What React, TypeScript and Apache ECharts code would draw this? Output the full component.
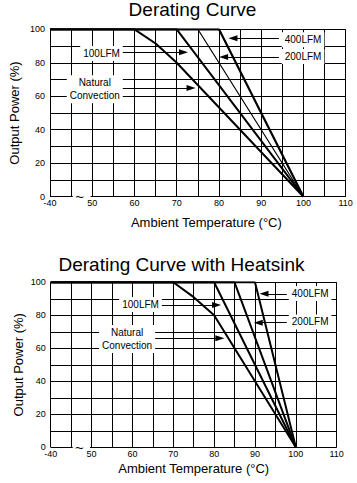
import React, { useEffect, useRef } from "react";
import * as echarts from "echarts";

const FONT = "'Liberation Sans', Arial, Helvetica, sans-serif";

// Top chart: Derating Curve  [temperature (40 shown as -40), output %]
const topNatural = [[40, 100], [60, 100], [65, 91.5], [70, 80], [100, 0]];
const top100LFM = [[40, 100], [70, 100], [100, 0]];
const top200LFM = [[40, 100], [75, 100], [100, 0]];
const top400LFM = [[40, 100], [80, 100], [100, 0]];

// Bottom chart: Derating Curve with Heatsink
const botNatural = [[40, 100], [70, 100], [75, 91], [80, 80], [100, 0]];
const bot100LFM = [[40, 100], [80, 100], [100, 0]];
const bot200LFM = [[40, 100], [85, 100], [100, 0]];
const bot400LFM = [[40, 100], [90, 100], [100, 0]];

// axis break between -40 and 50
const axisBreak = [45.4, 49.6];
const breakMark = [47, 0];

// annotations: label position and arrow (from, to, y)
const topLabels = [
  { text: "100LFM", x: 52.2, y: 85.5 },
  { text: "Natural\nConvection", x: 50.6, y: 64.2 },
  { text: "400LFM", x: 99.9, y: 93.8 },
  { text: "200LFM", x: 99.9, y: 83.8 },
];
const topArrows = [
  { from: 57.0, to: 71.6, y: 86.3 },
  { from: 57.0, to: 73.4, y: 64.9 },
  { from: 94.2, to: 83.3, y: 94.6 },
  { from: 94.2, to: 81.1, y: 83.5 },
];
const botLabels = [
  { text: "100LFM", x: 62.0, y: 86.6 },
  { text: "Natural\nConvection", x: 58.7, y: 65.6 },
  { text: "400LFM", x: 103.5, y: 93.2 },
  { text: "200LFM", x: 103.5, y: 76.0 },
];
const botArrows = [
  { from: 66.6, to: 80.6, y: 86.2 },
  { from: 64.8, to: 81.4, y: 66.1 },
  { from: 97.8, to: 92.2, y: 93.0 },
  { from: 97.8, to: 90.8, y: 75.5 },
];

function xAxisCfg(gridIndex: number, nameGap: number, shift: number) {
  return {
    gridIndex,
    type: "value",
    min: 40,
    max: 110,
    interval: 5,
    axisLine: { show: false },
    axisTick: { show: false },
    splitLine: { show: true, lineStyle: { color: "#000", width: 1 } },
    axisLabel: {
      color: "#000",
      fontSize: 9,
      fontFamily: FONT,
      margin: 2,
      showMinLabel: true,
      showMaxLabel: true,
      formatter: (v: number) => (v === 40 ? "-40" : v % 10 === 0 ? String(v) : ""),
    },
    name: "Ambient Temperature (°C)",
    nameLocation: "middle",
    nameGap,
    nameMoveOverlap: false,
    nameTextStyle: {
      color: "#000",
      fontSize: 13,
      fontWeight: "normal",
      fontFamily: FONT,
      padding: [0, 0, 0, shift],
    },
  };
}

function yAxisCfg(gridIndex: number, nameGap: number) {
  return {
    gridIndex,
    type: "value",
    min: 0,
    max: 100,
    interval: 10,
    axisLine: { show: false },
    axisTick: { show: false },
    splitLine: { show: true, lineStyle: { color: "#000", width: 1 } },
    axisLabel: {
      color: "#000",
      fontSize: 9,
      fontFamily: FONT,
      margin: 5,
      formatter: (v: number) => (v % 20 === 0 ? String(v) : ""),
    },
    name: "Output Power (%)",
    nameLocation: "middle",
    nameGap,
    nameMoveOverlap: false,
    nameTextStyle: { color: "#000", fontSize: 13, fontWeight: "normal", fontFamily: FONT },
  };
}

function curve(idx: number, data: number[][], width: number) {
  return {
    type: "line",
    xAxisIndex: idx,
    yAxisIndex: idx,
    data,
    symbol: "none",
    silent: true,
    z: 5,
    lineStyle: { color: "#000", width },
  };
}

function annotations(idx: number, labels: any[], arrows: any[]) {
  return [
    {
      type: "line",
      xAxisIndex: idx,
      yAxisIndex: idx,
      data: [[axisBreak[0], 0], [axisBreak[1], 0]],
      symbol: "none",
      silent: true,
      clip: false,
      z: 3,
      lineStyle: { color: "#fff", width: 3 },
      markLine: {
        silent: true,
        symbol: ["none", "triangle"],
        symbolSize: 8,
        label: { show: false },
        lineStyle: { color: "#000", width: 1, type: "solid" },
        data: arrows.map((a) => [
          { coord: [a.from, a.y] },
          { coord: [a.to, a.y], symbolSize: [6, 9] },
        ]),
      },
      markPoint: {
        silent: true,
        symbol: "rect",
        symbolSize: 1,
        itemStyle: { color: "rgba(0,0,0,0)" },
        data: [
          ...labels.map((l) => ({
            coord: [l.x, l.y],
            label: {
              show: true,
              position: "inside",
              formatter: l.text,
              color: "#000",
              fontSize: 10,
              fontFamily: FONT,
              lineHeight: 13,
              align: "center",
              backgroundColor: "#fff",
              padding: [1, 3],
            },
          })),
          {
            coord: breakMark,
            label: {
              show: true,
              position: "inside",
              formatter: "~",
              color: "#000",
              fontSize: 15,
              fontFamily: FONT,
            },
          },
        ],
      },
    },
  ];
}

export default function App() {
  const ref = useRef<HTMLDivElement>(null);
  useEffect(() => {
    document.body.style.margin = "0";
    const chart = echarts.init(ref.current!, null, { renderer: "svg" });
    chart.setOption({
      animation: false,
      backgroundColor: "#fff",
      grid: [
        { left: 49.3, right: 11.3, top: 29.3, height: 167.4 },
        { left: 50.7, right: 20.3, top: 282.3, height: 165 },
      ],
      xAxis: [xAxisCfg(0, 19, 17), xAxisCfg(1, 15, 0)],
      yAxis: [yAxisCfg(0, 29), yAxisCfg(1, 26)],
      graphic: [
        {
          type: "text",
          x: 192.5,
          y: 0,
          style: {
            text: "Derating Curve",
            fill: "#000",
            fontSize: 19,
            fontFamily: FONT,
            align: "center",
            verticalAlign: "top",
          },
        },
        {
          type: "text",
          x: 181.5,
          y: 254.5,
          style: {
            text: "Derating Curve with Heatsink",
            fill: "#000",
            fontSize: 19,
            fontFamily: FONT,
            align: "center",
            verticalAlign: "top",
          },
        },
      ],
      series: [
        curve(0, topNatural, 2),
        curve(0, top100LFM, 2),
        curve(0, top200LFM, 1.2),
        curve(0, top400LFM, 2.2),
        ...annotations(0, topLabels, topArrows),
        curve(1, botNatural, 2),
        curve(1, bot100LFM, 2),
        curve(1, bot200LFM, 2),
        curve(1, bot400LFM, 2),
        ...annotations(1, botLabels, botArrows),
      ],
    });
    return () => chart.dispose();
  }, []);
  return <div ref={ref} style={{ width: 357, height: 483 }} />;
}
